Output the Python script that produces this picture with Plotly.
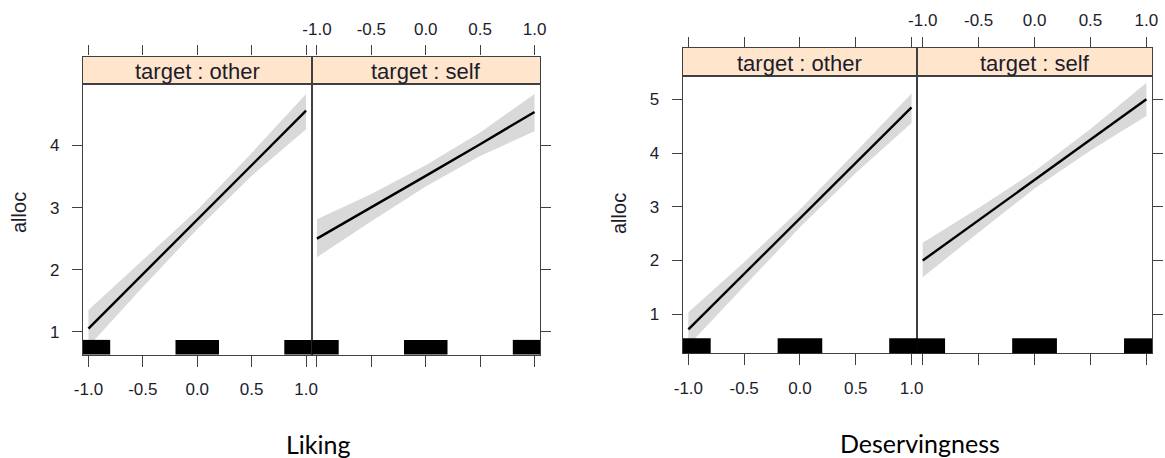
import plotly.graph_objects as go

W, H = 1165, 458

# Predictor grid (centred scale) and its tick labels
x_grid = [-1.0, -0.5, 0.0, 0.5, 1.0]
x_ticktext = ["-1.0", "-0.5", "0.0", "0.5", "1.0"]

# Effect of Liking on alloc, by target: fitted values and 95% band
liking_other_fit = [1.05, 1.93, 2.80, 3.69, 4.56]
liking_other_lo = [0.76, 1.72, 2.65, 3.51, 4.26]
liking_other_hi = [1.35, 2.15, 2.96, 3.88, 4.83]

liking_self_fit = [2.50, 3.00, 3.51, 4.02, 4.54]
liking_self_lo = [2.20, 2.78, 3.34, 3.83, 4.23]
liking_self_hi = [2.81, 3.22, 3.68, 4.21, 4.83]

# Effect of Deservingness on alloc, by target
deserv_other_fit = [0.72, 1.75, 2.78, 3.82, 4.85]
deserv_other_lo = [0.42, 1.52, 2.62, 3.63, 4.56]
deserv_other_hi = [1.04, 1.97, 2.95, 4.02, 5.11]

deserv_self_fit = [2.00, 2.75, 3.50, 4.25, 5.00]
deserv_self_lo = [1.69, 2.52, 3.34, 4.05, 4.69]
deserv_self_hi = [2.33, 2.98, 3.66, 4.45, 5.31]

# Where observed predictor values lie (rug)
rug_spans = [(-1.05, -0.80), (-0.20, 0.20), (0.80, 1.05)]

targets = ["other", "self"]
liking_y_ticks = [1, 2, 3, 4]
deserv_y_ticks = [1, 2, 3, 4, 5]

X_RANGE = [-1.05, 1.05]
FONT = "Liberation Sans, Arial, sans-serif"
TXT = "#1c1c2c"
LINE = "#404040"
STRIP_BG = "#FFE5CC"
BAND = "#D9D9D9"


def px_x(v):
    return v / W


def px_y(v):
    return 1 - v / H


charts = [
    dict(
        title="Liking",
        series=[(liking_other_fit, liking_other_lo, liking_other_hi),
                (liking_self_fit, liking_self_lo, liking_self_hi)],
        yticks=liking_y_ticks, yrange=[0.633, 4.99],
        cols=[83.0, 311.5, 540.0], panel_y=[84.0, 354.5], strip_top=56.5,
        ytitle_x=19, ytitle_y=213, title_x=318, title_y=444,
    ),
    dict(
        title="Deservingness",
        series=[(deserv_other_fit, deserv_other_lo, deserv_other_hi),
                (deserv_self_fit, deserv_self_lo, deserv_self_hi)],
        yticks=deserv_y_ticks, yrange=[0.274, 5.434],
        cols=[682.8, 917.1, 1152.0], panel_y=[76.0, 353.3], strip_top=48.0,
        ytitle_x=619, ytitle_y=214, title_x=920, title_y=443,
    ),
]

fig = go.Figure()
layout = dict(
    width=W, height=H,
    margin=dict(l=0, r=0, t=0, b=0, autoexpand=False),
    paper_bgcolor="white", plot_bgcolor="white",
    showlegend=False,
    font=dict(family=FONT, color=TXT),
)
shapes = []
annotations = []

tickfont = dict(family=FONT, size=17, color=TXT)
n_panels = 4
for ci, ch in enumerate(charts):
    for pi in range(2):
        k = ci * 2 + pi + 1          # main panel axis index
        s = k + n_panels             # strip axis index
        xd = [px_x(ch["cols"][pi]), px_x(ch["cols"][pi + 1])]
        yd = [px_y(ch["panel_y"][1]), px_y(ch["panel_y"][0])]
        sd = [px_y(ch["panel_y"][0]), px_y(ch["strip_top"])]

        fit, lo, hi = ch["series"][pi]
        xa, ya = ("x" if k == 1 else f"x{k}"), ("y" if k == 1 else f"y{k}")

        # confidence band
        fig.add_trace(go.Scatter(
            x=x_grid + x_grid[::-1], y=hi + lo[::-1],
            fill="toself", fillcolor=BAND, mode="lines",
            line=dict(width=0, color=BAND), hoverinfo="skip",
            xaxis=xa, yaxis=ya))
        # fitted effect
        fig.add_trace(go.Scatter(
            x=x_grid, y=fit, mode="lines",
            line=dict(color="black", width=2.4),
            xaxis=xa, yaxis=ya))

        # panel axes
        layout[f"xaxis{k}"] = dict(
            domain=xd, range=X_RANGE, anchor=f"y{k}", automargin=False,
            tickvals=x_grid, ticktext=x_ticktext,
            ticks="outside", ticklen=11, tickwidth=1.3, tickcolor=LINE,
            showline=True, linecolor=LINE, linewidth=1.3, mirror=True,
            showgrid=False, zeroline=False,
            showticklabels=(pi == 0), tickfont=tickfont,
            ticklabelstandoff=8,
        )
        layout[f"yaxis{k}"] = dict(
            domain=yd, range=ch["yrange"], anchor=f"x{k}", automargin=False,
            side="left" if pi == 0 else "right",
            tickvals=ch["yticks"],
            ticks="outside", ticklen=10, tickwidth=1.3, tickcolor=LINE,
            showline=True, linecolor=LINE, linewidth=1.3, mirror=True,
            showgrid=False, zeroline=False,
            showticklabels=(pi == 0), tickfont=tickfont,
            ticklabelstandoff=9,
        )
        if pi == 1:
            layout[f"yaxis{k}"]["matches"] = "y" if ci == 0 else "y3"

        # strip axes (top ticks)
        layout[f"xaxis{s}"] = dict(
            domain=xd, range=X_RANGE, anchor=f"y{s}", side="top",
            automargin=False,
            tickvals=x_grid, ticktext=x_ticktext,
            ticks="outside", ticklen=10, tickwidth=1.3, tickcolor=LINE,
            showline=True, linecolor=LINE, linewidth=1.3, mirror=True,
            showgrid=False, zeroline=False,
            showticklabels=(pi == 1), tickfont=tickfont,
            ticklabelstandoff=4,
        )
        layout[f"yaxis{s}"] = dict(
            domain=sd, range=[0, 1], anchor=f"x{s}", automargin=False,
            showticklabels=False, ticks="",
            showline=True, linecolor=LINE, linewidth=1.3, mirror=True,
            showgrid=False, zeroline=False,
        )
        # keep the strip subplot alive with an empty trace
        fig.add_trace(go.Scatter(x=[None], y=[None], mode="markers",
                                 xaxis=f"x{s}", yaxis=f"y{s}",
                                 hoverinfo="skip"))

        shapes.append(dict(
            type="rect", xref=f"x{s} domain", yref=f"y{s} domain",
            x0=0, x1=1, y0=0, y1=1, fillcolor=STRIP_BG,
            line=dict(width=0), layer="below"))
        annotations.append(dict(
            text=f"target : {targets[pi]}", showarrow=False,
            xref=f"x{s} domain", yref=f"y{s} domain", x=0.5, y=0.45,
            xanchor="center", yanchor="middle",
            font=dict(family=FONT, size=22, color=TXT)))

        # rug of observed predictor values
        for a, b in rug_spans:
            shapes.append(dict(
                type="rect", xref=xa, yref=f"{ya} domain",
                x0=max(a, X_RANGE[0]), x1=min(b, X_RANGE[1]),
                y0=0, y1=0.054, fillcolor="black", line=dict(width=0),
                layer="above"))

    # y-axis title and predictor name below each chart
    annotations.append(dict(
        text="alloc", showarrow=False, textangle=-90,
        xref="paper", yref="paper",
        x=px_x(ch["ytitle_x"]), y=px_y(ch["ytitle_y"]),
        xanchor="center", yanchor="middle",
        font=dict(family=FONT, size=20, color=TXT)))
    annotations.append(dict(
        text=ch["title"], showarrow=False,
        xref="paper", yref="paper",
        x=px_x(ch["title_x"]), y=px_y(ch["title_y"]),
        xanchor="center", yanchor="middle",
        font=dict(family="Lato, Carlito, sans-serif", size=25, color="black")))

layout["shapes"] = shapes
layout["annotations"] = annotations
fig.update_layout(**layout)

fig.write_html("out.html")
